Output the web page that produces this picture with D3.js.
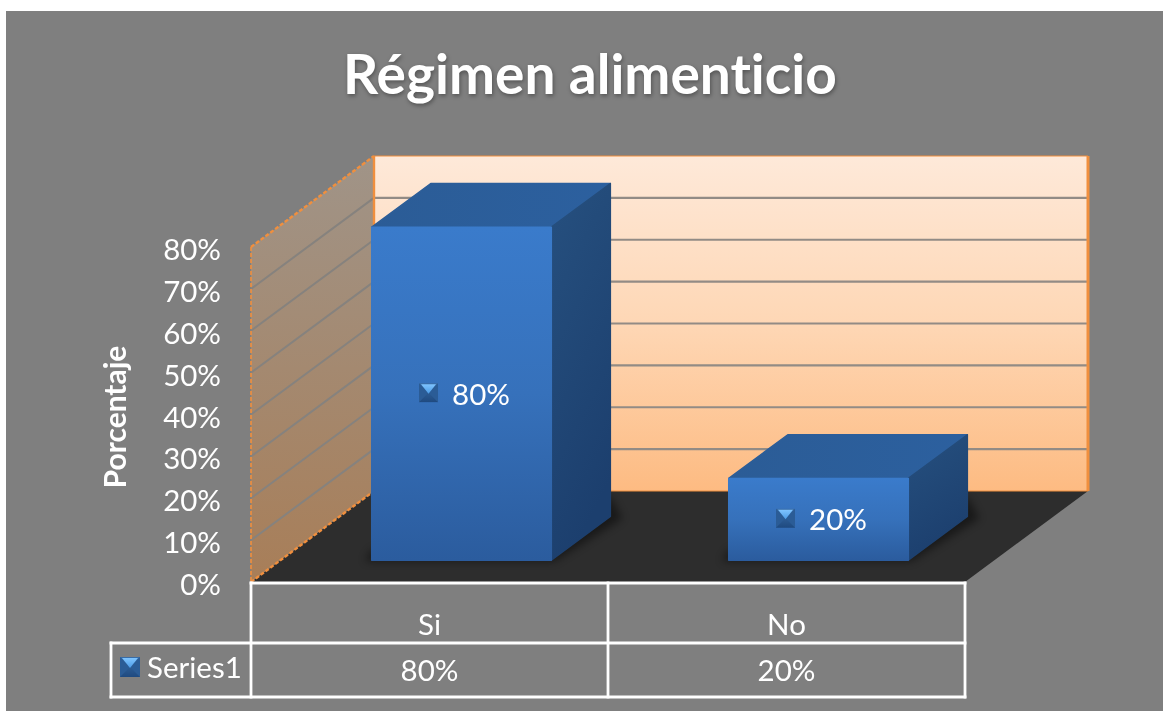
<!DOCTYPE html>
<html><head><meta charset="utf-8">
<script src="https://cdn.jsdelivr.net/npm/d3@7/dist/d3.min.js"></script>
<style>
html,body{margin:0;padding:0;background:#fff;overflow:hidden}
svg{display:block;filter:blur(0.7px)}
text{font-family:Lato,"Open Sans",sans-serif;fill:#fff;font-variant-ligatures:none}
</style></head><body>
<svg id="c" width="1163" height="711"></svg>
<script>
const chartTitle = "Régimen alimenticio";
const axisTitle = "Porcentaje";
const seriesName = "Series1";
const categories = ["Si", "No"];
const seriesValues = [80, 20];
const tickValues = [0, 10, 20, 30, 40, 50, 60, 70, 80];
const pct = v => v + "%";

const svg = d3.select("#c");
const defs = svg.append("defs");
function grad(id, stops, x2 = 0, y2 = 1) {
  const g = defs.append("linearGradient").attr("id", id)
    .attr("x1", 0).attr("y1", 0).attr("x2", x2).attr("y2", y2);
  stops.forEach(([o, c]) => g.append("stop").attr("offset", o).attr("stop-color", c));
}
grad("back", [[0, "#fee9d9"], [0.5, "#fed7b5"], [1, "#fdbb82"]]);
grad("side", [[0, "#a09488"], [1, "#a87e58"]]);
grad("front", [[0, "#3a7bcb"], [0.5, "#3671bb"], [1, "#2b5c9e"]]);
grad("top", [[0, "#2b5c96"], [1, "#2c609f"]], 1, 0);
grad("right", [[0, "#26507f"], [1, "#1c3f6e"]], 0.3, 1);
grad("keyLight", [[0, "#7fc4ff"], [1, "#4c9be6"]]);
grad("keyBody", [[0, "#3a6ea8"], [1, "#1f4a80"]]);
defs.append("filter").attr("id", "soft").attr("x", "-30%").attr("y", "-30%").attr("width", "160%").attr("height", "160%")
  .append("feGaussianBlur").attr("stdDeviation", 4);

// backdrop
svg.append("rect").attr("x", 6).attr("y", 11).attr("width", 1157).attr("height", 700).attr("fill", "#7f7f7f");

// scales
const x0 = 251, x1 = 965, yBase = 582;
const x = d3.scaleBand().domain(categories).range([x0, x1]);
const y = d3.scaleLinear().domain([0, 80]).range([yBase, 247]);
const depth = { dx: 123, dy: -91 };
const px = (xv, d) => xv + depth.dx * d;
const py = (yv, d) => yv + depth.dy * d;
const poly = pts => pts.map(p => p.join(",")).join(" ");

// floor
svg.append("polygon").attr("fill", "#2d2d2d")
  .attr("points", poly([[x0, yBase], [x1, yBase], [px(x1, 1), py(yBase, 1)], [px(x0, 1), py(yBase, 1)]]));

// back wall
svg.append("polygon").attr("fill", "url(#back)")
  .attr("points", poly([[px(x0, 1), py(y(80), 1)], [px(x1, 1), py(y(80), 1)], [px(x1, 1), py(yBase, 1)], [px(x0, 1), py(yBase, 1)]]));
// side wall
svg.append("polygon").attr("fill", "url(#side)")
  .attr("points", poly([[x0, y(80)], [px(x0, 1), py(y(80), 1)], [px(x0, 1), py(yBase, 1)], [x0, yBase]]));

// gridlines
const inner = tickValues.slice(1, -1);
svg.append("g").selectAll("line").data(inner).join("line")
  .attr("x1", px(x0, 1)).attr("x2", px(x1, 1))
  .attr("y1", d => py(y(d), 1)).attr("y2", d => py(y(d), 1))
  .attr("stroke", "#928b85").attr("stroke-width", 2.2);
svg.append("g").selectAll("line").data(inner).join("line")
  .attr("x1", x0).attr("x2", px(x0, 1))
  .attr("y1", d => y(d)).attr("y2", d => py(y(d), 1))
  .attr("stroke", "#86827e").attr("stroke-width", 2);

// wall edges
const edge = "#f08f3e";
const edges = [
  [px(x1, 1), py(y(80), 1), px(x1, 1), py(yBase, 1), 3, null],
  [px(x0, 1), py(y(80), 1), px(x1, 1), py(y(80), 1), 1, null],
  [px(x0, 1), py(y(80), 1), px(x0, 1), py(yBase, 1), 2.4, null],
  [x0, y(80), px(x0, 1), py(y(80), 1), 2.4, "4 2"],
  [x0, yBase, px(x0, 1), py(yBase, 1), 2.4, "4 2"],
  [x0, y(80), x0, yBase, 1.6, "4 2"],
  [px(x0, 1), py(yBase, 1), px(x1, 1), py(yBase, 1), 1, null]
];
svg.append("g").selectAll("line").data(edges).join("line")
  .attr("x1", d => d[0]).attr("y1", d => d[1]).attr("x2", d => d[2]).attr("y2", d => d[3])
  .attr("stroke-width", d => d[4]).attr("stroke-dasharray", d => d[5]).attr("stroke", edge);

// bars
const barFrac = 0.503, dNear = 0.24, dFar = 0.72, barShift = 2.5, bevel = 2;
const bars = svg.append("g").selectAll("g").data(categories.map((c, i) => ({ c, v: seriesValues[i] }))).join("g");
bars.each(function (d) {
  const g = d3.select(this);
  const w = x.bandwidth() * barFrac;
  const cx = x(d.c) + x.bandwidth() / 2 + depth.dx * dNear + barShift;
  const l = cx - w / 2, r = cx + w / 2;
  const yb = py(y(0), dNear), yt = py(y(d.v), dNear) + bevel;
  const dd = dFar - dNear, ox = depth.dx * dd, oy = depth.dy * dd;
  // floor shadow
  g.append("polygon").attr("fill", "#000").attr("opacity", 0.45).attr("filter", "url(#soft)")
    .attr("points", poly([[l - 7, yb + 1], [r + 3, yb + 1], [r + ox + 12, yb + oy + 2], [r + ox, yb + oy - 20], [l, yb - 10]]));
  const face = (fill, pts) => g.append("polygon").attr("fill", fill).attr("stroke", fill)
    .attr("stroke-width", 1.5).attr("stroke-linejoin", "round").attr("points", poly(pts));
  face("url(#top)", [[l, yt], [l + ox, yt + oy], [r + ox, yt + oy], [r, yt]]);
  face("url(#right)", [[r, yt], [r + ox, yt + oy], [r + ox, yb + oy], [r, yb]]);
  face("url(#front)", [[l, yt], [r, yt], [r, yb], [l, yb]]);

  // data label with key
  const my = (yt + yb) / 2;
  drawKey(g, cx - 33, my - 1, 19);
  g.append("text").attr("x", cx - 9.5).attr("y", my + 11).attr("font-size", 29.5).text(pct(d.v));
});

function drawKey(g, cx, cy, s) {
  const h = s / 2;
  const k = g.append("g").attr("transform", `translate(${cx},${cy})`);
  k.append("rect").attr("x", -h).attr("y", -h).attr("width", s).attr("height", s).attr("fill", "url(#keyBody)");
  k.append("polygon").attr("fill", "#2b5c96").attr("points", poly([[-h, -h], [0, 0], [-h, h]]));
  k.append("polygon").attr("fill", "#2b5c96").attr("points", poly([[h, -h], [0, 0], [h, h]]));
  k.append("polygon").attr("fill", "url(#keyLight)").attr("points", poly([[-h + 2, -h + 1], [h - 2, -h + 1], [0, 1]]));
}

// value axis labels
svg.append("g").selectAll("text").data(tickValues).join("text")
  .attr("x", 221).attr("y", d => y(d) + 13).attr("text-anchor", "end").attr("font-size", 29.5).text(pct);

// axis title
svg.append("text").attr("transform", "translate(126,417) rotate(-90)")
  .attr("text-anchor", "middle").attr("font-size", 30).attr("font-weight", 700).text(axisTitle);

// chart title
svg.append("text").attr("x", 590).attr("y", 94).attr("text-anchor", "middle")
  .attr("font-size", 55).attr("font-weight", 700)
  .style("filter", "drop-shadow(1px 2px 2px rgba(0,0,0,.35))").text(chartTitle);

// data table
const rowTop = 583, rowMid = 643, rowBot = 697, legendLeft = 111;
const tbl = svg.append("g").attr("stroke", "#fff").attr("stroke-width", 2.8).attr("stroke-linecap", "square").attr("fill", "none");
const tableLines = [
  [x0, rowTop, x1, rowTop], [legendLeft, rowMid, x1, rowMid], [legendLeft, rowBot, x1, rowBot],
  [legendLeft, rowMid, legendLeft, rowBot], [x0, rowTop, x0, rowBot],
  ...categories.map(c => [x(c) + x.bandwidth(), rowTop, x(c) + x.bandwidth(), rowBot])
];
tbl.selectAll("line").data(tableLines).join("line")
  .attr("x1", d => d[0]).attr("y1", d => d[1]).attr("x2", d => d[2]).attr("y2", d => d[3]);
const mid = c => x(c) + x.bandwidth() / 2;
svg.append("g").selectAll("text").data(categories).join("text")
  .attr("x", mid).attr("y", 635).attr("text-anchor", "middle").attr("font-size", 29.5).text(d => d);
svg.append("g").selectAll("text").data(seriesValues).join("text")
  .attr("x", (d, i) => mid(categories[i])).attr("y", 681).attr("text-anchor", "middle").attr("font-size", 29.5).text(pct);
drawKey(svg, 130, 667, 20);
svg.append("text").attr("x", 147).attr("y", 678).attr("font-size", 29.5).text(seriesName);
</script>
</body></html>
